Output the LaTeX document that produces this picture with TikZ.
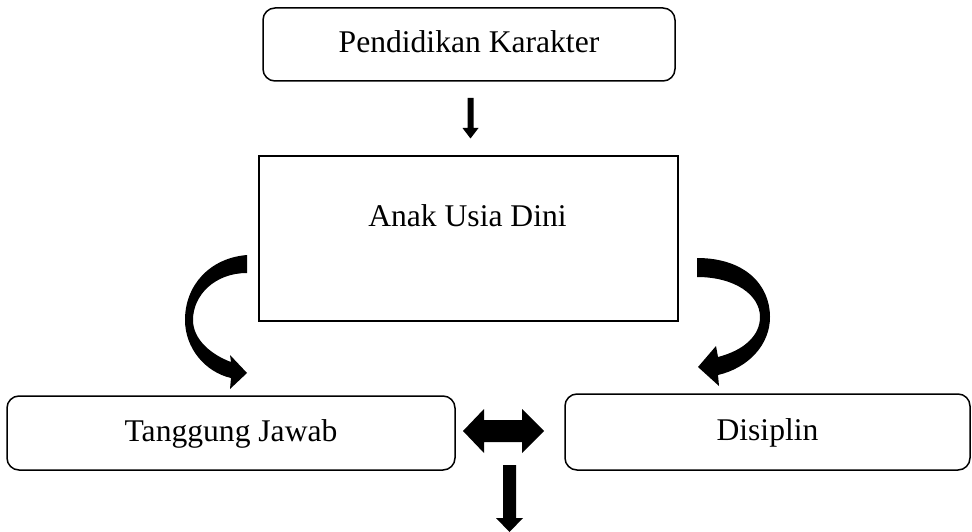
\documentclass[tikz,border=0pt]{standalone}
\usepackage{fontspec}
\setmainfont{Liberation Serif}
\begin{document}
\begin{tikzpicture}[x=1pt,y=-1pt,
  txt/.style={font=\fontsize{31.6}{38}\selectfont},
  box/.style={draw, line width=1.5pt, rounded corners=12pt, inner sep=0pt, txt, text height=21pt, text depth=5pt},
  blockarrow/.style={fill=black}]
\useasboundingbox (0,0) rectangle (972,532);
% boxes
\node[box, text depth=4pt, minimum width=412pt, minimum height=73pt] (pk) at (469,44.5) {Pendidikan Karakter};
\node[draw, line width=1.6pt, inner sep=0pt, minimum width=419pt, minimum height=165pt] (aud) at (468.5,238.5) {};
\node[txt, anchor=base, inner sep=0pt] (audt) at (467.5,226) {Anak Usia Dini};
\node[box, minimum width=448pt, minimum height=74pt] (tj) at (231,433) {Tanggung Jawab};
\node[box, minimum width=405pt, minimum height=76pt] (dis) at (767.5,432) {Disiplin};
% top straight arrow
\fill[blockarrow] (467.5,98) -- (473.5,98) -- (473.5,128) -- (478.5,128) -- (470.5,138.5) -- (462.5,128) -- (467.5,128) -- cycle;
% left curved arrow
\fill[blockarrow] (247,255) .. controls (210,258) and (185,285) .. (185,320)
  .. controls (185,348) and (205,372) .. (231,378) -- (230,389) -- (247,373) -- (230,355) -- (231,362)
  .. controls (212,355) and (193,340) .. (193,320) .. controls (193,295) and (215,273) .. (247,273) -- cycle;
% right curved arrow
\fill[blockarrow] (697,258) .. controls (745,258) and (770,285) .. (770,317)
  .. controls (770,345) and (748,368) .. (718,375) -- (719,386) -- (698,367) -- (716,346) -- (718,357)
  .. controls (745,350) and (760,335) .. (760,317) .. controls (760,295) and (735,277) .. (697,277) -- cycle;
% double arrow
\fill[blockarrow] (463,431) -- (484,409) -- (484,420) -- (522,420) -- (522,409) -- (544,431) -- (522,453) -- (522,442) -- (484,442) -- (484,453) -- cycle;
% bottom arrow
\fill[blockarrow] (503,465) -- (516,465) -- (516,518) -- (523,518) -- (509.5,532) -- (496,518) -- (503,518) -- cycle;
\end{tikzpicture}
\end{document}
